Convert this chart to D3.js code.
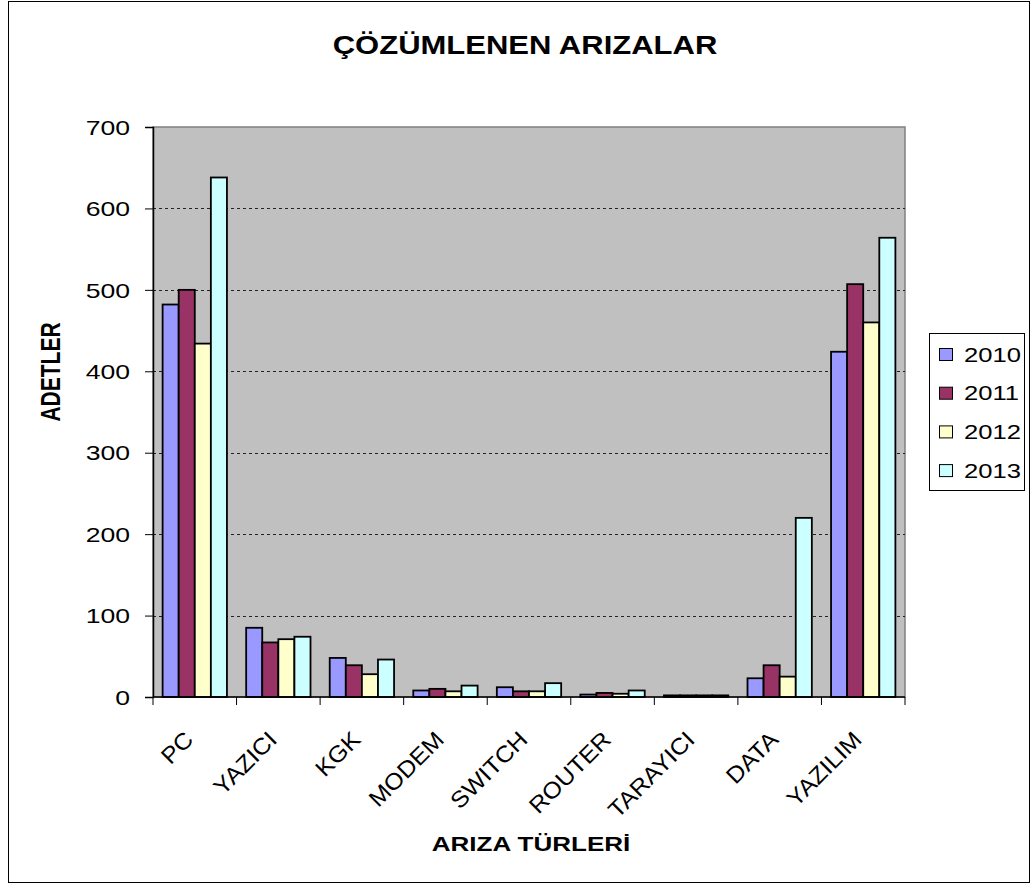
<!DOCTYPE html>
<html>
<head>
<meta charset="utf-8">
<script src="https://cdn.jsdelivr.net/npm/d3@7"></script>
<style>
  body { margin: 0; background: #fff; }
  text { font-family: "Liberation Sans", Arial, sans-serif; fill: #000; }
</style>
</head>
<body>
<svg class="chart" width="1032" height="885"></svg>
<script>
// data
var categories = ["PC", "YAZICI", "KGK", "MODEM", "SWITCH", "ROUTER", "TARAYICI", "DATA", "YAZILIM"];
var years = ["2010", "2011", "2012", "2013"];
var v2010 = [482, 85, 48, 8, 12, 3, 2, 23, 424];
var v2011 = [500, 67, 39, 10, 7, 5, 2, 39, 507];
var v2012 = [434, 71, 28, 7, 7, 4, 2, 25, 460];
var v2013 = [638, 74, 46, 14, 17, 8, 2, 220, 564];
var yTicks = [0, 100, 200, 300, 400, 500, 600, 700];

var series = [v2010, v2011, v2012, v2013];
var colors = ["#9999ff", "#993366", "#ffffcc", "#ccffff"];
var sx = 1.28; // the original is stretched sideways, text too

var svg = d3.select("svg.chart");
var plot = {left: 153, right: 905, top: 127, bottom: 697};

// outer frame
svg.append("rect")
  .attr("x", 8.5).attr("y", 1.5)
  .attr("width", 1021).attr("height", 881)
  .attr("fill", "#fff").attr("stroke", "#000").attr("stroke-width", 1);

var y = d3.scaleLinear().domain([0, 700]).range([plot.bottom, plot.top]);
var x0 = d3.scaleBand().domain(categories)
  .range([plot.left, plot.right])
  .paddingInner(0.23).paddingOuter(0.115);
var x1 = d3.scaleBand().domain(years).range([0, x0.bandwidth()]);
var color = d3.scaleOrdinal().domain(years).range(colors);

// plot background
svg.append("rect")
  .attr("x", plot.left).attr("y", plot.top)
  .attr("width", plot.right - plot.left).attr("height", plot.bottom - plot.top)
  .attr("fill", "#c0c0c0").attr("stroke", "#808080").attr("stroke-width", 1.5);

// gridlines
svg.append("g").selectAll("line")
  .data(yTicks.filter(function(d){ return d > 0 && d < 700; }))
  .enter().append("line")
  .attr("x1", plot.left).attr("x2", plot.right)
  .attr("y1", function(d){ return Math.round(y(d)) + 0.5; })
  .attr("y2", function(d){ return Math.round(y(d)) + 0.5; })
  .attr("stroke", "#222").attr("stroke-dasharray", "3,3");

// bars
var groups = svg.append("g").selectAll("g")
  .data(categories)
  .enter().append("g")
  .attr("transform", function(d){ return "translate(" + x0(d) + ",0)"; });

groups.selectAll("rect")
  .data(function(d, i){ return years.map(function(yr, j){ return {year: yr, value: series[j][i]}; }); })
  .enter().append("rect")
  .attr("x", function(d){ return x1(d.year); })
  .attr("y", function(d){ return y(d.value); })
  .attr("width", x1.bandwidth())
  .attr("height", function(d){ return y(0) - y(d.value); })
  .attr("fill", function(d){ return color(d.year); })
  .attr("stroke", "#000").attr("stroke-width", 1.8);

// y axis
var yAxis = svg.append("g")
  .attr("transform", "translate(" + plot.left + ",0)")
  .call(d3.axisLeft(y).tickValues(yTicks).tickSize(8).tickPadding(14).tickFormat(d3.format("d")));
yAxis.select(".domain").attr("stroke", "#000").attr("stroke-width", 1.5);
yAxis.selectAll(".tick line").attr("stroke", "#000");
yAxis.selectAll(".tick text")
  .attr("font-size", 20)
  .attr("dy", "0.36em")
  .attr("x", null)
  .attr("transform", "translate(-23,0) scale(1.33,1)");

// x axis with ticks on category borders
var xAxis = svg.append("g").attr("transform", "translate(0," + plot.bottom + ")");
xAxis.append("line")
  .attr("x1", plot.left).attr("x2", plot.right)
  .attr("stroke", "#000").attr("stroke-width", 1.5);
var step = x0.step();
xAxis.selectAll("line.tk")
  .data(d3.range(categories.length + 1))
  .enter().append("line").attr("class", "tk")
  .attr("x1", function(i){ return plot.left + i * step; })
  .attr("x2", function(i){ return plot.left + i * step; })
  .attr("y1", 0).attr("y2", 8)
  .attr("stroke", "#000");

svg.append("g").selectAll("text")
  .data(categories)
  .enter().append("text")
  .attr("transform", function(d){
    return "translate(" + (x0(d) + x0.bandwidth() / 2) + ",741) rotate(-45) scale(1.08,1)";
  })
  .attr("text-anchor", "end")
  .attr("font-size", 23)
  .text(function(d){ return d; });

// titles
svg.append("text")
  .attr("transform", "translate(525,54) scale(1.24,1)")
  .attr("text-anchor", "middle")
  .attr("font-size", 25).attr("font-weight", "bold")
  .text("ÇÖZÜMLENEN ARIZALAR");

svg.append("text")
  .attr("transform", "translate(531,851) scale(1.24,1)")
  .attr("text-anchor", "middle")
  .attr("font-size", 21).attr("font-weight", "bold")
  .text("ARIZA TÜRLERİ");

svg.append("text")
  .attr("transform", "translate(60,372) scale(1.28,1) rotate(-90)")
  .attr("text-anchor", "middle")
  .attr("font-size", 21).attr("font-weight", "bold")
  .text("ADETLER");

// legend
var legend = svg.append("g").attr("transform", "translate(929,333)");
legend.append("rect")
  .attr("x", 0.5).attr("y", 0.5).attr("width", 95).attr("height", 157)
  .attr("fill", "#fff").attr("stroke", "#000");
var li = legend.selectAll("g.item")
  .data(years)
  .enter().append("g").attr("class", "item")
  .attr("transform", function(d, i){ return "translate(0," + (15 + i * 38.7) + ")"; });
li.append("rect")
  .attr("x", 10.5).attr("y", 0.5).attr("width", 13).attr("height", 12)
  .attr("fill", function(d){ return color(d); })
  .attr("stroke", "#000");
li.append("text")
  .attr("transform", "translate(35,13.5) scale(" + sx + ",1)")
  .attr("font-size", 20)
  .text(function(d){ return d; });
</script>
</body>
</html>
